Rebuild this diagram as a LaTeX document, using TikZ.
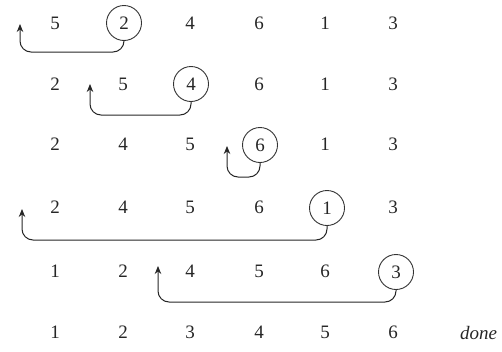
\documentclass[tikz,border=0pt]{standalone}
\usepackage{fontspec}
\setmainfont{Liberation Serif}
\usetikzlibrary{arrows.meta}
\begin{document}
\begin{tikzpicture}[x=1pt,y=-1pt,
  num/.style={font=\fontsize{19}{21}\selectfont, inner sep=0pt, text=black!85},
  key/.style={num, draw=black!80, circle, line width=0.9pt, minimum size=35pt},
  arr/.style={draw=black!85, line width=1pt, rounded corners=11pt, -{Stealth[length=8pt,width=6.5pt]}}]
\useasboundingbox (0,0) rectangle (502,351);
% row 1
\node[num] (a1) at (55,23) {5};
\node[key] (a2) at (124,23) {2};
\node[num] (a3) at (190,23) {4};
\node[num] (a4) at (259,23) {6};
\node[num] (a5) at (325,23) {1};
\node[num] (a6) at (393,23) {3};
\coordinate (ta) at (20,24);
\draw[arr] (a2.south) -- (a2.south |- 0,52) -- (ta |- 0,52) -- (ta);
% row 2
\node[num] (b1) at (55,84) {2};
\node[num] (b2) at (123,84) {5};
\node[key] (b3) at (191,84) {4};
\node[num] (b4) at (259,84) {6};
\node[num] (b5) at (325,84) {1};
\node[num] (b6) at (393,84) {3};
\coordinate (tb) at (90,84);
\draw[arr] (b3.south) -- (b3.south |- 0,115) -- (tb |- 0,115) -- (tb);
% row 3
\node[num] (c1) at (55,144) {2};
\node[num] (c2) at (123,144) {4};
\node[num] (c3) at (190,144) {5};
\node[key] (c4) at (260,145) {6};
\node[num] (c5) at (325,144) {1};
\node[num] (c6) at (393,144) {3};
\coordinate (tc) at (227,146);
\draw[arr] (c4.south) -- (c4.south |- 0,177) -- (tc |- 0,177) -- (tc);
% row 4
\node[num] (d1) at (55,207) {2};
\node[num] (d2) at (123,207) {4};
\node[num] (d3) at (190,207) {5};
\node[num] (d4) at (259,207) {6};
\node[key] (d5) at (327,208) {1};
\node[num] (d6) at (393,207) {3};
\coordinate (td) at (22,209);
\draw[arr] (d5.south) -- (d5.south |- 0,240) -- (td |- 0,240) -- (td);
% row 5
\node[num] (e1) at (55,271) {1};
\node[num] (e2) at (123,271) {2};
\node[num] (e3) at (190,271) {4};
\node[num] (e4) at (259,271) {5};
\node[num] (e5) at (325,271) {6};
\node[key] (e6) at (396,272) {3};
\coordinate (te) at (158,266);
\draw[arr] (e6.south) -- (e6.south |- 0,302) -- (te |- 0,302) -- (te);
% row 6
\node[num] (f1) at (55,332) {1};
\node[num] (f2) at (123,332) {2};
\node[num] (f3) at (190,332) {3};
\node[num] (f4) at (259,332) {4};
\node[num] (f5) at (325,332) {5};
\node[num] (f6) at (393,332) {6};
\node[num, anchor=base west, font=\fontsize{19}{21}\selectfont\itshape] (done) at (460,339) {done};
\end{tikzpicture}
\end{document}
